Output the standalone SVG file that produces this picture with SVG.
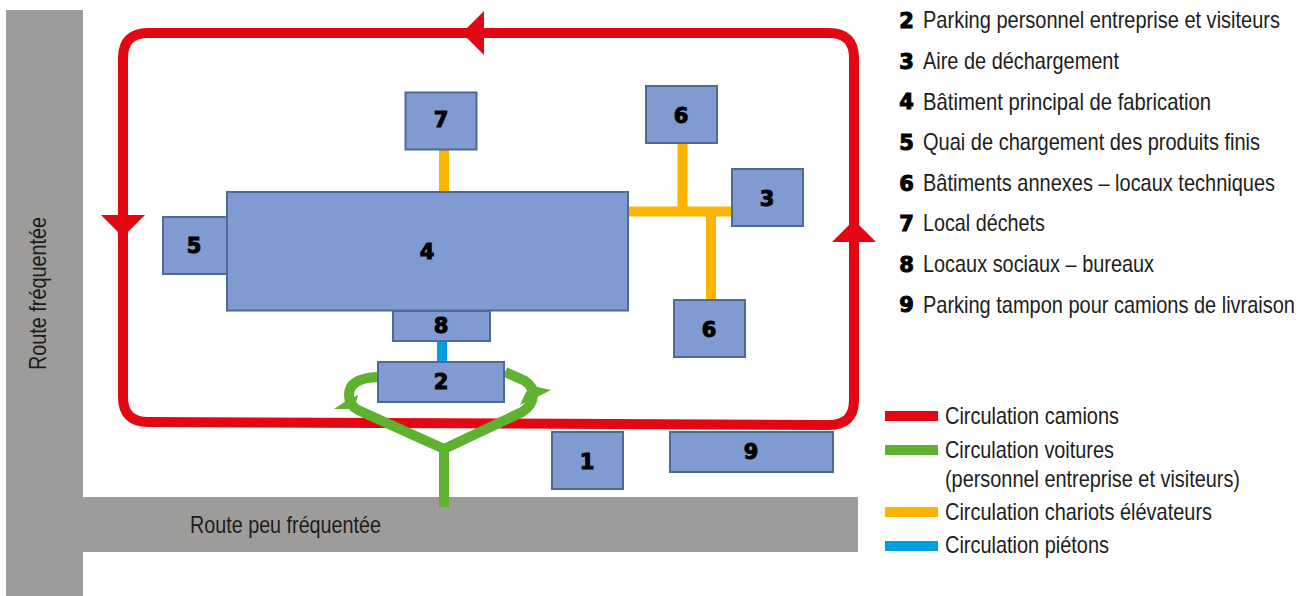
<svg xmlns="http://www.w3.org/2000/svg" width="1309" height="596" viewBox="0 0 1309 596">
<style>
.t{font-family:"Liberation Sans",Arial,sans-serif;font-size:23px;fill:#1d1d1b}
.n{font-family:"DejaVu Sans",sans-serif;font-weight:700;font-size:21px;fill:#000;stroke:#000;stroke-width:1;text-anchor:middle}
.b{fill:#7f9bd1;stroke:#4d6a94;stroke-width:2}
.road{fill:#9d9c9b}
.c{fill:none}
.red{stroke:#e30613;stroke-width:10}
.green{stroke:#5fb130;stroke-width:10}
.orange{stroke:#fbb400;stroke-width:10}
.blue{stroke:#009fe3;stroke-width:10}
</style>
<g id="roads">
<rect class="road" x="6" y="10" width="77" height="586"/>
<rect class="road" x="83" y="497" width="775" height="55"/>
<text class="t" transform="translate(46,370) rotate(-90) scale(.88,1)" textLength="173.900" lengthAdjust="spacingAndGlyphs">Route fréquentée</text>
<text class="t" transform="translate(190,533) scale(.88,1)" textLength="217" lengthAdjust="spacingAndGlyphs">Route peu fréquentée</text>
</g>
<g id="connectors">
<path class="c red" d="M148 33H829Q854 33 854 58V400Q854 425 829 425L148 422Q123 422 123 397V58Q123 33 148 33Z"/>
<path d="M462 33L484 11V55Z" fill="#e30613"/>
<path d="M123 237L101 215H145Z" fill="#e30613"/>
<path d="M854 220L832 242H876Z" fill="#e30613"/>
<path class="c orange" d="M444 149V192M628 211.500H732M682.500 143V211.500M711 211.500V300"/>
<path class="c blue" d="M442 341V362"/>
<path class="c green" d="M444 507V449L358 410Q349 405 349 395Q349 378 378 377M444 449L522 412Q533 405 533 395Q533 386 525 381L505 372"/>
<path d="M334 409L346 401L358 395L354 409Z" fill="#5fb130"/>
<path d="M551 390L533 386L526 392L520 405L537 397Z" fill="#5fb130"/>
</g>
<g id="node-7"><rect class="b" x="405.500" y="92.500" width="71" height="57"/><text class="n" x="441" y="127">7</text></g>
<g id="node-6a"><rect class="b" x="646" y="86" width="71" height="57"/><text class="n" x="681" y="123">6</text></g>
<g id="node-3"><rect class="b" x="732" y="169" width="71" height="57"/><text class="n" x="767" y="206">3</text></g>
<g id="node-5"><rect class="b" x="163" y="217" width="64" height="57"/><text class="n" x="194" y="253">5</text></g>
<g id="node-4"><rect class="b" x="227" y="192" width="401" height="118.500"/><text class="n" x="427" y="259">4</text></g>
<g id="node-8"><rect class="b" x="393" y="311" width="97" height="30"/><text class="n" x="441" y="333">8</text></g>
<g id="node-2"><rect class="b" x="378" y="362" width="126" height="40"/><text class="n" x="441" y="389">2</text></g>
<g id="node-6b"><rect class="b" x="674" y="300" width="71" height="57"/><text class="n" x="709" y="337">6</text></g>
<g id="node-1"><rect class="b" x="552" y="432" width="71" height="57"/><text class="n" x="587" y="469">1</text></g>
<g id="node-9"><rect class="b" x="670" y="432" width="163" height="40"/><text class="n" x="751" y="459">9</text></g>
<g id="list">
<text class="n" x="906.500" y="28">2</text><text class="t" transform="translate(923,28) scale(.88,1)" textLength="405.700" lengthAdjust="spacingAndGlyphs">Parking personnel entreprise et visiteurs</text>
<text class="n" x="906.500" y="69">3</text><text class="t" transform="translate(923,69) scale(.88,1)" textLength="222.700" lengthAdjust="spacingAndGlyphs">Aire de déchargement</text>
<text class="n" x="906.500" y="109">4</text><text class="t" transform="translate(923,110) scale(.88,1)" textLength="327.300" lengthAdjust="spacingAndGlyphs">Bâtiment principal de fabrication</text>
<text class="n" x="906.500" y="150">5</text><text class="t" transform="translate(923,150) scale(.88,1)" textLength="383" lengthAdjust="spacingAndGlyphs">Quai de chargement des produits finis</text>
<text class="n" x="906.500" y="191">6</text><text class="t" transform="translate(923,191) scale(.88,1)" textLength="400" lengthAdjust="spacingAndGlyphs">Bâtiments annexes – locaux techniques</text>
<text class="n" x="906.500" y="231">7</text><text class="t" transform="translate(923,231) scale(.88,1)" textLength="138.600" lengthAdjust="spacingAndGlyphs">Local déchets</text>
<text class="n" x="906.500" y="272">8</text><text class="t" transform="translate(923,272) scale(.88,1)" textLength="262.500" lengthAdjust="spacingAndGlyphs">Locaux sociaux – bureaux</text>
<text class="n" x="906.500" y="312">9</text><text class="t" transform="translate(923,313) scale(.88,1)" textLength="422.700" lengthAdjust="spacingAndGlyphs">Parking tampon pour camions de livraison</text>
</g>
<g id="legend">
<rect x="885" y="411" width="53" height="10" fill="#e30613"/><text class="t" transform="translate(945,424) scale(.88,1)" textLength="197.700" lengthAdjust="spacingAndGlyphs">Circulation camions</text>
<rect x="885" y="445" width="53" height="10" fill="#5fb130"/><text class="t" transform="translate(945,458) scale(.88,1)" textLength="192" lengthAdjust="spacingAndGlyphs">Circulation voitures</text>
<text class="t" transform="translate(945,487) scale(.88,1)" textLength="335.200" lengthAdjust="spacingAndGlyphs">(personnel entreprise et visiteurs)</text>
<rect x="885" y="507" width="53" height="10" fill="#fbb400"/><text class="t" transform="translate(945,520) scale(.88,1)" textLength="303.400" lengthAdjust="spacingAndGlyphs">Circulation chariots élévateurs</text>
<rect x="885" y="541" width="53" height="10" fill="#009fe3"/><text class="t" transform="translate(945,553) scale(.88,1)" textLength="186.400" lengthAdjust="spacingAndGlyphs">Circulation piétons</text>
</g>
</svg>
